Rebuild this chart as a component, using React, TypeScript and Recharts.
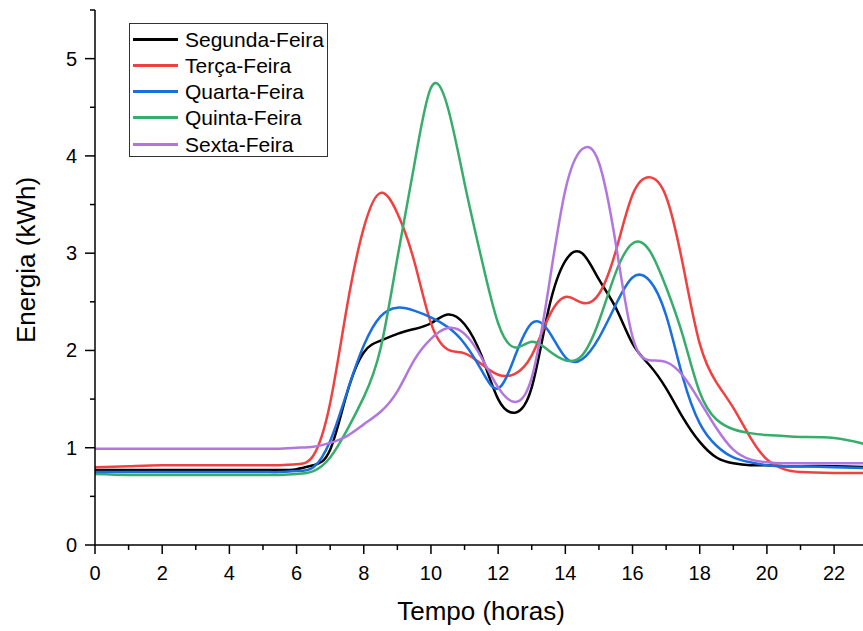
import { LineChart, Line, XAxis, YAxis } from "recharts";

// horas (eixo x)
const hours = [
  0, 1, 2, 3, 4, 5, 5.5, 6, 6.5, 7, 7.5, 8, 8.5, 9, 9.5, 10, 10.5, 11, 11.5, 12,
  12.5, 13, 13.5, 14, 14.5, 15, 15.5, 16, 16.5, 17, 17.5, 18, 18.5, 19, 19.5, 20,
  20.5, 21, 22, 23,
];

const segunda = [
  0.77, 0.77, 0.77, 0.77, 0.77, 0.77, 0.77, 0.78, 0.82, 0.98, 1.56, 1.98, 2.1, 2.17,
  2.22, 2.28, 2.37, 2.27, 1.95, 1.5, 1.36, 1.62, 2.42, 2.92, 3.0, 2.73, 2.44, 2.07,
  1.85, 1.61, 1.31, 1.06, 0.9, 0.84, 0.82, 0.82, 0.81, 0.81, 0.81, 0.8,
];

const terca = [
  0.8, 0.81, 0.82, 0.82, 0.82, 0.82, 0.82, 0.83, 0.92, 1.46, 2.45, 3.26, 3.62, 3.41,
  2.92, 2.28, 2.01, 1.97, 1.86, 1.75, 1.76, 1.95, 2.34, 2.55, 2.49, 2.58, 3.02, 3.6,
  3.78, 3.58, 2.88, 2.07, 1.67, 1.41, 1.11, 0.88, 0.78, 0.75, 0.74, 0.74,
];

const quarta = [
  0.75, 0.75, 0.75, 0.75, 0.75, 0.75, 0.75, 0.76, 0.8, 1.07, 1.57, 2.05, 2.35, 2.44,
  2.41, 2.34, 2.24, 2.07, 1.8, 1.61, 1.94, 2.28, 2.2, 1.93, 1.91, 2.13, 2.47, 2.75,
  2.72, 2.36, 1.72, 1.25, 1.02, 0.9, 0.85, 0.82, 0.81, 0.81, 0.8, 0.79,
];

const quinta = [
  0.73, 0.72, 0.72, 0.72, 0.72, 0.72, 0.72, 0.73, 0.76, 0.9, 1.18, 1.52, 2.02, 2.95,
  3.9, 4.7, 4.5, 3.72, 2.95, 2.28, 2.03, 2.09, 2.0, 1.9, 1.95, 2.3, 2.8, 3.1, 3.03,
  2.65, 2.15, 1.57, 1.29, 1.19, 1.15, 1.13, 1.12, 1.11, 1.1, 1.03,
];

const sexta = [
  0.99, 0.99, 0.99, 0.99, 0.99, 0.99, 0.99, 1.0, 1.01, 1.05, 1.12, 1.24, 1.37, 1.58,
  1.9, 2.12, 2.23, 2.17, 1.93, 1.62, 1.47, 1.72, 2.64, 3.65, 4.07, 3.93, 3.1, 2.14,
  1.9, 1.88, 1.74, 1.48, 1.2, 0.98, 0.88, 0.85, 0.84, 0.84, 0.84, 0.84,
];

const xTicks = [0, 1, 2, 3, 4, 5, 6, 7, 8, 9, 10, 11, 12, 13, 14, 15, 16, 17, 18, 19, 20, 21, 22];
const yTicks = [0, 0.5, 1, 1.5, 2, 2.5, 3, 3.5, 4, 4.5, 5, 5.5];

const series = [
  { key: "segunda", name: "Segunda-Feira", color: "#000000", values: segunda },
  { key: "terca", name: "Terça-Feira", color: "#F14040", values: terca },
  { key: "quarta", name: "Quarta-Feira", color: "#1A6FDF", values: quarta },
  { key: "quinta", name: "Quinta-Feira", color: "#37AD6B", values: quinta },
  { key: "sexta", name: "Sexta-Feira", color: "#B177DE", values: sexta },
];

const data = hours.map((h, i) => {
  const row: any = { h };
  series.forEach((s) => (row[s.key] = s.values[i]));
  return row;
});

const XTick = ({ x, y, payload }: any) => {
  const major = payload.value % 2 === 0;
  return (
    <g>
      <line x1={x} x2={x} y1={y} y2={y + (major ? 9 : 5)} stroke="#000" strokeWidth={1.5} />
      {major && (
        <text x={x} y={y + 35} textAnchor="middle" fontSize={20} fill="#000">
          {payload.value}
        </text>
      )}
    </g>
  );
};

const YTick = ({ x, y, payload }: any) => {
  const major = Number.isInteger(payload.value);
  return (
    <g>
      <line x1={x - (major ? 10 : 5)} x2={x} y1={y} y2={y} stroke="#000" strokeWidth={1.5} />
      {major && (
        <text x={x - 18} y={y + 7} textAnchor="end" fontSize={20} fill="#000">
          {payload.value}
        </text>
      )}
    </g>
  );
};

export default function App() {
  return (
    <div
      style={{
        position: "absolute",
        left: 0,
        top: 0,
        width: 863,
        height: 631,
        background: "#fff",
        fontFamily: "'Liberation Sans', Arial, sans-serif",
      }}
    >
      <LineChart width={863} height={631} data={data} margin={{ top: 10, right: 0, bottom: 0, left: 0 }}>
        <XAxis
          dataKey="h"
          type="number"
          domain={[0, 22.86]}
          allowDataOverflow
          ticks={xTicks}
          interval={0}
          height={86}
          tickSize={0}
          tickMargin={0}
          tickLine={false}
          tick={<XTick />}
          axisLine={{ stroke: "#000", strokeWidth: 1.5 }}
          label={{
            content: () => (
              <text x={481} y={620} textAnchor="middle" fontSize={26} fill="#000">
                Tempo (horas)
              </text>
            ),
          }}
        />
        <YAxis
          type="number"
          domain={[0, 5.5]}
          ticks={yTicks}
          interval={0}
          width={95}
          tickSize={0}
          tickMargin={0}
          tickLine={false}
          tick={<YTick />}
          axisLine={{ stroke: "#000", strokeWidth: 1.5 }}
          label={{
            content: () => (
              <text
                x={35}
                y={260}
                transform="rotate(-90 35 260)"
                textAnchor="middle"
                fontSize={26}
                fill="#000"
              >
                Energia (kWh)
              </text>
            ),
          }}
        />
        {series.map((s) => (
          <Line
            key={s.key}
            type="natural"
            dataKey={s.key}
            name={s.name}
            stroke={s.color}
            strokeWidth={2.5}
            dot={false}
            activeDot={false}
            isAnimationActive={false}
          />
        ))}
      </LineChart>

      <div
        style={{
          position: "absolute",
          left: 129,
          top: 23,
          width: 199,
          height: 134,
          boxSizing: "border-box",
          border: "1px solid #333",
          background: "#fff",
        }}
      >
        {series.map((s, i) => (
          <div
            key={s.key}
            style={{
              position: "absolute",
              left: 0,
              top: 2 + i * 26.3,
              height: 26,
              display: "flex",
              alignItems: "center",
            }}
          >
            <div style={{ width: 45, height: 3, marginLeft: 3, background: s.color }} />
            <span style={{ marginLeft: 7, fontSize: 21, lineHeight: "21px", color: "#000", whiteSpace: "nowrap" }}>
              {s.name}
            </span>
          </div>
        ))}
      </div>
    </div>
  );
}
